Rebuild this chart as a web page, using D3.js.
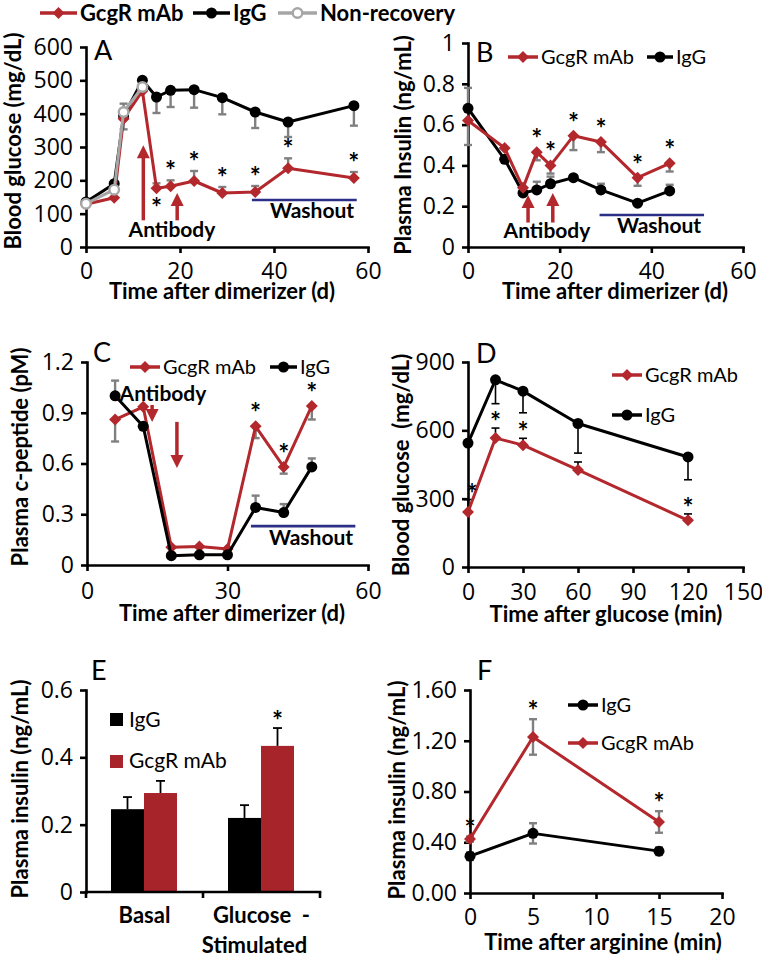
<!DOCTYPE html>
<html><head><meta charset="utf-8">
<script src="https://cdn.jsdelivr.net/npm/d3@7/dist/d3.min.js"></script>
<style>body{margin:0;background:#fff}svg{display:block}</style>
</head><body>
<script>
// ---------------- DATA ----------------
// Panel A: blood glucose (mg/dL) vs time after dimerizer (d)
const aDays       = [0, 6, 8, 12, 15, 18, 23, 29, 36, 43, 57];
const aIgG        = [135, 190, 393, 500, 450, 470, 472, 448, 405, 375, 424];
const aIgGErr     = [0, 0, 40, 0, 48, 50, 54, 50, 48, 45, 60];
const aMab        = [128, 148, 385, 468, 176, 182, 198, 162, 165, 236, 207];
const aMabErr     = [0, 0, 0, 0, 15, 18, 30, 18, 18, 30, 18];
const aNonRecDays = [0, 6, 8, 12];
const aNonRec     = [130, 172, 405, 480];
const aNonRecErr  = [0, 0, 25, 0];
const aStars      = [4, 5, 6, 7, 8, 9, 10];
const aStarsBelow = [4];
const aXTicks = [0, 20, 40, 60];
const aYTicks = [0, 100, 200, 300, 400, 500, 600];

// Panel B: plasma insulin (ng/mL)
const bDays    = [0, 8, 12, 15, 18, 23, 29, 37, 44];
const bIgG     = [0.68, 0.43, 0.265, 0.28, 0.31, 0.34, 0.28, 0.215, 0.275];
const bIgGErr  = [0.10, 0, 0.02, 0.04, 0.035, 0, 0.03, 0, 0.03];
const bMab     = [0.62, 0.485, 0.29, 0.465, 0.40, 0.545, 0.515, 0.34, 0.41];
const bMabErr  = [0.12, 0, 0, 0.04, 0.04, 0.07, 0.05, 0.04, 0.04];
const bStars   = [3, 4, 5, 6, 7, 8];
const bXTicks = [0, 20, 40, 60];
const bYTicks = [0, 0.2, 0.4, 0.6, 0.8, 1];

// Panel C: plasma c-peptide (pM)
const cDays    = [6, 12, 18, 24, 30, 36, 42, 48];
const cIgG     = [1.0, 0.82, 0.055, 0.06, 0.06, 0.34, 0.31, 0.58];
const cIgGErr  = [0.09, 0, 0, 0, 0, 0.07, 0.05, 0.05];
const cMab     = [0.86, 0.935, 0.105, 0.11, 0.095, 0.82, 0.58, 0.94];
const cMabErr  = [0.13, 0, 0, 0, 0, 0.07, 0.04, 0.08];
const cStars   = [5, 6, 7];
const cXTicks = [0, 30, 60];
const cYTicks = [0, 0.3, 0.6, 0.9, 1.2];

// Panel D: blood glucose (mg/dL) vs time after glucose (min)
const dTimes   = [0, 15, 30, 60, 120];
const dIgG     = [544, 822, 772, 630, 483];
const dIgGErr  = [0, 105, 95, 130, 100];
const dMab     = [241, 566, 535, 426, 205];
const dMabErr  = [55, 44, 30, 35, 28];
const dStars   = [0, 1, 2, 4];
const dXTicks = [0, 30, 60, 90, 120, 150];
const dYTicks = [0, 300, 600, 900];

// Panel E: plasma insulin (ng/mL), bars
const eCategories = ["Basal", "Glucose-Stimulated"];
const eTickLabels = [["Basal"], ["Glucose  -", "Stimulated"]];
const eSeries  = ["IgG", "GcgR mAb"];
const eIgG     = [0.246, 0.22];
const eIgGErr  = [0.036, 0.038];
const eMab     = [0.294, 0.434];
const eMabErr  = [0.036, 0.053];
const eStars   = [1];
const eYTicks = [0, 0.2, 0.4, 0.6];

// Panel F: plasma insulin (ng/mL) vs time after arginine (min)
const fTimes   = [0, 5, 15];
const fIgG     = [0.29, 0.47, 0.33];
const fIgGErr  = [0.03, 0.08, 0.03];
const fMab     = [0.425, 1.23, 0.56];
const fMabErr  = [0.02, 0.14, 0.085];
const fStars   = [0, 1, 2];
const fXTicks = [0, 5, 10, 15, 20];
const fYTicks = [0, 0.4, 0.8, 1.2, 1.6];

// ---------------- STYLE ----------------
const FONT = "Lato, 'Open Sans', 'DejaVu Sans', sans-serif";
const TICK_FONT = "'Open Sans', Lato, sans-serif";
const RED = "#b3282d", BLK = "#000", GRY = "#a6a6a6", EGRY = "#808080", NAVY = "#2b2f86";
const TICK_FS = 23, TITLE_FS = 22, LEG_FS = 20;

const svg = d3.select("body").append("svg").attr("width", 762).attr("height", 958)
  .attr("font-family", FONT);
svg.append("rect").attr("width", 762).attr("height", 958).attr("fill", "#fff");

function styleAxis(a) {
  a.attr("font-family", TICK_FONT).attr("font-size", TICK_FS);
  a.select(".domain").attr("stroke", BLK).attr("stroke-width", 2.6).attr("stroke-linecap", "square");
  a.selectAll(".tick line").attr("stroke", BLK).attr("stroke-width", 2.6);
  a.selectAll(".tick text").attr("fill", BLK);
}
function axes(g, x, y, o) {
  const ya = g.append("g").attr("transform", `translate(${x.range()[0]},0)`)
    .call(d3.axisLeft(y).tickValues(o.yTicks).tickFormat(o.yFmt || d3.format("~g"))
      .tickSize(6).tickPadding(7).tickSizeOuter(0));
  styleAxis(ya);
  if (o.xTicks) {
    const xa = g.append("g").attr("transform", `translate(0,${y.range()[0]})`)
      .call(d3.axisBottom(x).tickValues(o.xTicks).tickFormat(d3.format("~g"))
        .tickSize(6).tickPadding(o.xPad ?? 12).tickSizeOuter(0));
    styleAxis(xa);
  }
  g.append("text").attr("transform", `translate(${o.yTitleX},${o.yTitleY}) rotate(-90)`)
    .attr("text-anchor", "middle").attr("font-weight", "bold").attr("font-size", TITLE_FS)
    .style("white-space", "pre").text(o.yTitle);
  if (o.xTitle) g.append("text").attr("x", o.xTitleX).attr("y", o.xTitleY)
    .attr("text-anchor", "middle").attr("font-weight", "bold").attr("font-size", TITLE_FS).text(o.xTitle);
  g.append("text").attr("x", o.letterX).attr("y", o.letterY).attr("font-size", 27).text(o.letter);
}
function seriesLine(g, x, y, ts, vs, color, w = 3) {
  g.append("path").datum(d3.zip(ts, vs)).attr("fill", "none").attr("stroke", color)
    .attr("stroke-width", w).attr("stroke-linejoin", "round")
    .attr("d", d3.line().x(d => x(d[0])).y(d => y(d[1])));
}
function mark(g, cx, cy, type, color) {
  if (type === "circle") g.append("circle").attr("cx", cx).attr("cy", cy).attr("r", 5.5).attr("fill", color);
  else if (type === "open") g.append("circle").attr("cx", cx).attr("cy", cy).attr("r", 4.8)
    .attr("fill", "#fff").attr("stroke", color).attr("stroke-width", 2.4);
  else {
    const s = 6;
    g.append("path").attr("d", `M${cx},${cy - s}L${cx + s},${cy}L${cx},${cy + s}L${cx - s},${cy}Z`).attr("fill", color);
  }
}
function marks(g, x, y, ts, vs, type, color) {
  ts.forEach((t, i) => mark(g, x(t), y(vs[i]), type, color));
}
function errs(g, x, y, ts, vs, es, dir, color, cap = 8, w = 2.4) {
  ts.forEach((t, i) => {
    const e = es[i]; if (!e) return;
    const cx = x(t);
    const lo = dir === 0 ? vs[i] - e : vs[i];
    const hi = dir === 0 ? vs[i] + e : vs[i] + dir * e;
    const ends = dir === 0 ? [lo, hi] : [hi];
    g.append("line").attr("x1", cx).attr("x2", cx).attr("y1", y(lo)).attr("y2", y(hi))
      .attr("stroke", color).attr("stroke-width", w);
    ends.forEach(v => g.append("line").attr("x1", cx - cap / 2).attr("x2", cx + cap / 2)
      .attr("y1", y(v)).attr("y2", y(v)).attr("stroke", color).attr("stroke-width", w));
  });
}
function star(g, cx, cy) {
  g.append("text").attr("x", cx).attr("y", cy + 13).attr("text-anchor", "middle")
    .attr("font-weight", "bold").attr("font-size", 26).text("*");
}
function legendItem(g, x1, x2, yy, color, type, label, bold) {
  g.append("line").attr("x1", x1).attr("x2", x2).attr("y1", yy).attr("y2", yy)
    .attr("stroke", color).attr("stroke-width", 3.5);
  mark(g, (x1 + x2) / 2, yy, type, color);
  g.append("text").attr("x", x2 + 3).attr("y", yy + (bold ? 7.5 : 7)).attr("font-size", bold ? 22 : LEG_FS)
    .attr("font-weight", bold ? "bold" : "normal").text(label);
}
function arrow(g, x, yFrom, yTip, color) {
  const dir = yTip < yFrom ? -1 : 1;
  const hl = 13, hw = 6.5;
  g.append("line").attr("x1", x).attr("x2", x).attr("y1", yFrom).attr("y2", yTip - dir * hl * 0.8)
    .attr("stroke", color).attr("stroke-width", 3.5);
  g.append("path").attr("d", `M${x},${yTip}L${x - hw},${yTip - dir * hl}L${x + hw},${yTip - dir * hl}Z`).attr("fill", color);
}
function label(g, x, y, txt, bold, fs = 21, anchor = "middle") {
  g.append("text").attr("x", x).attr("y", y).attr("text-anchor", anchor)
    .attr("font-weight", bold ? "bold" : "normal").attr("font-size", fs).style("white-space", "pre").text(txt);
}
function washout(g, x, y, d0, d1, v) {
  g.append("line").attr("x1", x(d0)).attr("x2", x(d1)).attr("y1", y(v)).attr("y2", y(v))
    .attr("stroke", NAVY).attr("stroke-width", 2.6);
}

// ---------------- PANEL A ----------------
{
  const g = svg.append("g");
  const x = d3.scaleLinear([0, 60], [86, 368]);
  const y = d3.scaleLinear([0, 600], [247, 47]);
  axes(g, x, y, { xTicks: aXTicks, yTicks: aYTicks, xPad: 10,
    yTitle: "Blood glucose (mg/dL)", yTitleX: 21, yTitleY: 141,
    xTitle: "Time after dimerizer (d)", xTitleX: 222, xTitleY: 299,
    letter: "A", letterX: 94, letterY: 60 });
  errs(g, x, y, aDays, aIgG, aIgGErr, -1, EGRY);
  errs(g, x, y, aDays, aMab, aMabErr, 1, EGRY);
  errs(g, x, y, aNonRecDays, aNonRec, aNonRecErr, 1, EGRY);
  seriesLine(g, x, y, aDays, aIgG, BLK);
  marks(g, x, y, aDays, aIgG, "circle", BLK);
  seriesLine(g, x, y, aDays, aMab, RED);
  marks(g, x, y, aDays, aMab, "diamond", RED);
  seriesLine(g, x, y, aNonRecDays, aNonRec, GRY);
  marks(g, x, y, aNonRecDays, aNonRec, "open", GRY);
  aStars.forEach(i => {
    if (aStarsBelow.includes(i)) star(g, x(aDays[i]), y(aMab[i]) + 16);
    else star(g, x(aDays[i]), y(aMab[i] + aMabErr[i]) - 13);
  });
  arrow(g, x(12.2), y(80), y(305), RED);
  arrow(g, x(19.4), y(80), y(162), RED);
  label(g, 172, 237, "Antibody", true, 21);
  washout(g, x, y, 35.3, 57.6, 141);
  label(g, 312, 218, "Washout", true, 21);
  legendItem(g, 40, 77, 13, RED, "diamond", "GcgR mAb", true);
  legendItem(g, 193, 230, 13, BLK, "circle", "IgG", true);
  legendItem(g, 278, 317, 13, GRY, "open", "Non-recovery", true);
}

// ---------------- PANEL B ----------------
{
  const g = svg.append("g");
  const x = d3.scaleLinear([0, 60], [468, 743]);
  const y = d3.scaleLinear([0, 1], [247, 43]);
  axes(g, x, y, { xTicks: bXTicks, yTicks: bYTicks, xPad: 10,
    yTitle: "Plasma Insulin (ng/mL)", yTitleX: 411, yTitleY: 145,
    xTitle: "Time after dimerizer (d)", xTitleX: 615, xTitleY: 299,
    letter: "B", letterX: 476, letterY: 62 });
  errs(g, x, y, bDays, bIgG, bIgGErr, 1, EGRY);
  errs(g, x, y, bDays, bMab, bMabErr, -1, EGRY);
  seriesLine(g, x, y, bDays, bIgG, BLK);
  marks(g, x, y, bDays, bIgG, "circle", BLK);
  seriesLine(g, x, y, bDays, bMab, RED);
  marks(g, x, y, bDays, bMab, "diamond", RED);
  bStars.forEach(i => star(g, x(bDays[i]), y(bMab[i]) - 17));
  arrow(g, x(13.1), y(0.12), y(0.255), RED);
  arrow(g, x(18.5), y(0.12), y(0.265), RED);
  label(g, 547, 238, "Antibody", true, 21);
  washout(g, x, y, 28.7, 51.5, 0.157);
  label(g, 659, 233, "Washout", true, 21);
  legendItem(g, 508, 538, 57, RED, "diamond", "GcgR mAb", false);
  legendItem(g, 647, 673, 57, BLK, "circle", "IgG", false);
}

// ---------------- PANEL C ----------------
{
  const g = svg.append("g");
  const x = d3.scaleLinear([0, 60], [87, 368]);
  const y = d3.scaleLinear([0, 1.2], [565, 362]);
  axes(g, x, y, { xTicks: cXTicks, yTicks: cYTicks, xPad: 12,
    yTitle: "Plasma c-peptide (pM)", yTitleX: 28, yTitleY: 457,
    xTitle: "Time after dimerizer (d)", xTitleX: 232, xTitleY: 621,
    letter: "C", letterX: 93, letterY: 362 });
  errs(g, x, y, cDays, cMab, cMabErr, -1, EGRY);
  errs(g, x, y, cDays, cIgG, cIgGErr, 1, EGRY);
  seriesLine(g, x, y, cDays, cMab, RED);
  marks(g, x, y, cDays, cMab, "diamond", RED);
  seriesLine(g, x, y, cDays, cIgG, BLK);
  marks(g, x, y, cDays, cIgG, "circle", BLK);
  cStars.forEach(i => star(g, x(cDays[i]), y(cMab[i]) - 17));
  label(g, 163, 401, "Antibody", true, 21);
  arrow(g, x(13.9), y(0.946), y(0.846), RED);
  arrow(g, x(19.2), y(0.846), y(0.574), RED);
  washout(g, x, y, 35, 57.3, 0.23);
  label(g, 311, 545, "Washout", true, 21);
  legendItem(g, 130, 160, 367, RED, "diamond", "GcgR mAb", false);
  legendItem(g, 270, 297, 367, BLK, "circle", "IgG", false);
}

// ---------------- PANEL D ----------------
{
  const g = svg.append("g");
  const x = d3.scaleLinear([0, 150], [468, 743]);
  const y = d3.scaleLinear([0, 900], [567, 362]);
  axes(g, x, y, { xTicks: dXTicks, yTicks: dYTicks, xPad: 11,
    yTitle: "Blood glucose  (mg/dL)", yTitleX: 409, yTitleY: 465,
    xTitle: "Time after glucose (min)", xTitleX: 606, xTitleY: 622,
    letter: "D", letterX: 476, letterY: 363 });
  errs(g, x, y, dTimes, dIgG, dIgGErr, -1, BLK, 8, 1.6);
  errs(g, x, y, dTimes, dMab, dMabErr, 1, BLK, 8, 1.6);
  seriesLine(g, x, y, dTimes, dIgG, BLK);
  marks(g, x, y, dTimes, dIgG, "circle", BLK);
  seriesLine(g, x, y, dTimes, dMab, RED);
  marks(g, x, y, dTimes, dMab, "diamond", RED);
  dStars.forEach(i => star(g, x(dTimes[i]) + (i === 0 ? 4 : 0), y(dMab[i] + dMabErr[i]) - 10));
  legendItem(g, 612, 642, 375, RED, "diamond", "GcgR mAb", false);
  legendItem(g, 612, 642, 415, BLK, "circle", "IgG", false);
}

// ---------------- PANEL E ----------------
{
  const g = svg.append("g");
  const xb = d3.scaleBand().domain(eCategories).range([86, 320]);
  const xs = d3.scaleBand().domain(eSeries).range([25, 91]);
  const y = d3.scaleLinear([0, 0.6], [892, 690]);
  const vals = { "IgG": eIgG, "GcgR mAb": eMab };
  const errv = { "IgG": eIgGErr, "GcgR mAb": eMabErr };
  const col = { "IgG": BLK, "GcgR mAb": "#a8242b" };
  eCategories.forEach((c, ci) => {
    eSeries.forEach(s => {
      const x0 = xb(c) + xs(s), w = xs.bandwidth(), v = vals[s][ci];
      g.append("rect").attr("x", x0).attr("y", y(v)).attr("width", w).attr("height", y(0) - y(v)).attr("fill", col[s]);
    });
  });
  eCategories.forEach((c, ci) => {
    eSeries.forEach(s => {
      const cx = xb(c) + xs(s) + xs.bandwidth() / 2, v = vals[s][ci], e = errv[s][ci];
      g.append("line").attr("x1", cx).attr("x2", cx).attr("y1", y(v)).attr("y2", y(v + e)).attr("stroke", BLK).attr("stroke-width", 1.8);
      g.append("line").attr("x1", cx - 4.5).attr("x2", cx + 4.5).attr("y1", y(v + e)).attr("y2", y(v + e)).attr("stroke", BLK).attr("stroke-width", 1.8);
    });
  });
  eStars.forEach(ci => {
    const cx = xb(eCategories[ci]) + xs("GcgR mAb") + xs.bandwidth() / 2;
    star(g, cx, y(eMab[ci] + eMabErr[ci]) - 11);
  });
  const xl = d3.scaleLinear([0, 1], [86, 320]);
  axes(g, xl, y, { yTicks: eYTicks,
    yTitle: "Plasma insulin (ng/mL)", yTitleX: 28, yTitleY: 789,
    letter: "E", letterX: 91, letterY: 680 });
  g.append("line").attr("x1", 86).attr("x2", 320).attr("y1", y(0)).attr("y2", y(0))
    .attr("stroke", BLK).attr("stroke-width", 2.6).attr("stroke-linecap", "square");
  const tickXs = eCategories.map(c => xb(c)).concat([xb.range()[1]]);
  tickXs.forEach(tx => g.append("line").attr("x1", tx).attr("x2", tx).attr("y1", y(0)).attr("y2", y(0) + 6)
    .attr("stroke", BLK).attr("stroke-width", 2.6));
  label(g, xb("Basal") + xb.bandwidth() / 2, 923, eTickLabels[0][0], true, 22);
  label(g, xb("Glucose-Stimulated") + xb.bandwidth() / 2, 923, eTickLabels[1][0], true, 22);
  label(g, xb("Glucose-Stimulated") + xb.bandwidth() / 2 - 7, 953, eTickLabels[1][1], true, 22);
  // legend
  g.append("rect").attr("x", 110).attr("y", 713).attr("width", 13).attr("height", 13).attr("fill", BLK);
  g.append("text").attr("x", 129).attr("y", 727).attr("font-size", 21).text(eSeries[0]);
  g.append("rect").attr("x", 110).attr("y", 755).attr("width", 13).attr("height", 13).attr("fill", "#a8242b");
  g.append("text").attr("x", 129).attr("y", 768).attr("font-size", 21).text(eSeries[1]);
}

// ---------------- PANEL F ----------------
{
  const g = svg.append("g");
  const x = d3.scaleLinear([0, 20], [470, 722]);
  const y = d3.scaleLinear([0, 1.6], [893, 690]);
  axes(g, x, y, { xTicks: fXTicks, yTicks: fYTicks, yFmt: d3.format(".2f"), xPad: 10,
    yTitle: "Plasma insulin (ng/mL)", yTitleX: 405, yTitleY: 790,
    xTitle: "Time after arginine (min)", xTitleX: 603, xTitleY: 950,
    letter: "F", letterX: 477, letterY: 680 });
  errs(g, x, y, fTimes, fIgG, fIgGErr, 0, EGRY);
  errs(g, x, y, fTimes, fMab, fMabErr, 0, EGRY);
  seriesLine(g, x, y, fTimes, fIgG, BLK);
  marks(g, x, y, fTimes, fIgG, "circle", BLK);
  seriesLine(g, x, y, fTimes, fMab, RED);
  marks(g, x, y, fTimes, fMab, "diamond", RED);
  fStars.forEach(i => star(g, x(fTimes[i]), y(fMab[i] + fMabErr[i]) - 12));
  legendItem(g, 568, 598, 705, BLK, "circle", "IgG", false);
  legendItem(g, 568, 598, 743, RED, "diamond", "GcgR mAb", false);
}
</script>
</body></html>
